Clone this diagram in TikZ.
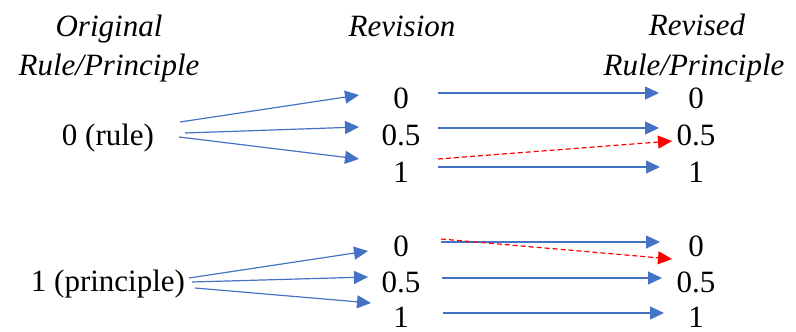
\documentclass[tikz,border=0pt]{standalone}
\usepackage{fontspec}
\setmainfont{Liberation Serif}
\usetikzlibrary{arrows.meta}
\definecolor{arrblue}{HTML}{4472C4}
\begin{document}
\begin{tikzpicture}[x=1pt,y=-1pt,
  txt/.style={anchor=base,inner sep=0pt,font=\fontsize{31}{37}\selectfont},
  head/.style={txt,font=\fontsize{31}{37}\selectfont\itshape},
  blu/.style={draw=arrblue,line width=1.2pt,-{Triangle[length=14pt,width=13pt,fill=arrblue]}},
  redd/.style={draw=red,line width=1.2pt,dash pattern=on 5pt off 3pt,-{Triangle[length=14pt,width=13pt,fill=red]}}]
\useasboundingbox (0,0) rectangle (796,332);
% headers
\node[head] (h1a) at (109,36) {Original};
\node[head] (h1b) at (109,75) {Rule/Principle};
\node[head] (h2) at (402,36) {Revision};
\node[head] (h3a) at (697,35) {Revised};
\node[head] (h3b) at (694,75) {Rule/Principle};
% left
\node[txt] (L0) at (108,145) {0 (rule)};
\node[txt] (L1) at (108,291) {1 (principle)};
% middle
\node[txt] (M00) at (401,108) {0};
\node[txt] (M05) at (401,145) {0.5};
\node[txt] (M01) at (401,182) {1};
\node[txt] (M10) at (401,256) {0};
\node[txt] (M15) at (401,292) {0.5};
\node[txt] (M11) at (401,327) {1};
% right
\node[txt] (R00) at (696,108) {0};
\node[txt] (R05) at (696,145) {0.5};
\node[txt] (R01) at (696,182) {1};
\node[txt] (R10) at (696,256) {0};
\node[txt] (R15) at (696,292) {0.5};
\node[txt] (R11) at (696,327) {1};
% top left arrows
\draw[blu] ([shift={(72,-23)}]L0.base) -- ([shift={(-42,-13)}]M00.base);
\draw[blu] ([shift={(77,-12)}]L0.base) -- ([shift={(-42,-18)}]M05.base);
\draw[blu] ([shift={(71,-8)}]L0.base) -- ([shift={(-42,-23)}]M01.base);
% top right arrows
\draw[blu] ([shift={(37,-15)}]M00.base) -- ([shift={(-37,-15)}]R00.base);
\draw[blu] ([shift={(37,-17)}]M05.base) -- ([shift={(-37,-17)}]R05.base);
\draw[blu] ([shift={(37,-15)}]M01.base) -- ([shift={(-36,-15)}]R01.base);
\draw[redd] ([shift={(37,-23)}]M01.base) -- ([shift={(-24,-4)}]R05.base);
% bottom left arrows
\draw[blu] ([shift={(81,-13)}]L1.base) -- ([shift={(-33,-5)}]M10.base);
\draw[blu] ([shift={(84,-9)}]L1.base) -- ([shift={(-33,-15)}]M15.base);
\draw[blu] ([shift={(87,-3)}]L1.base) -- ([shift={(-30,-24)}]M11.base);
% bottom right arrows
\draw[blu] ([shift={(40,-14)}]M10.base) -- ([shift={(-36,-14)}]R10.base);
\draw[blu] ([shift={(41,-14)}]M15.base) -- ([shift={(-34,-14)}]R15.base);
\draw[blu] ([shift={(42,-14)}]M11.base) -- ([shift={(-32,-14)}]R11.base);
\draw[redd] ([shift={(40,-17)}]M10.base) -- ([shift={(-24,-33)}]R15.base);
\end{tikzpicture}
\end{document}
